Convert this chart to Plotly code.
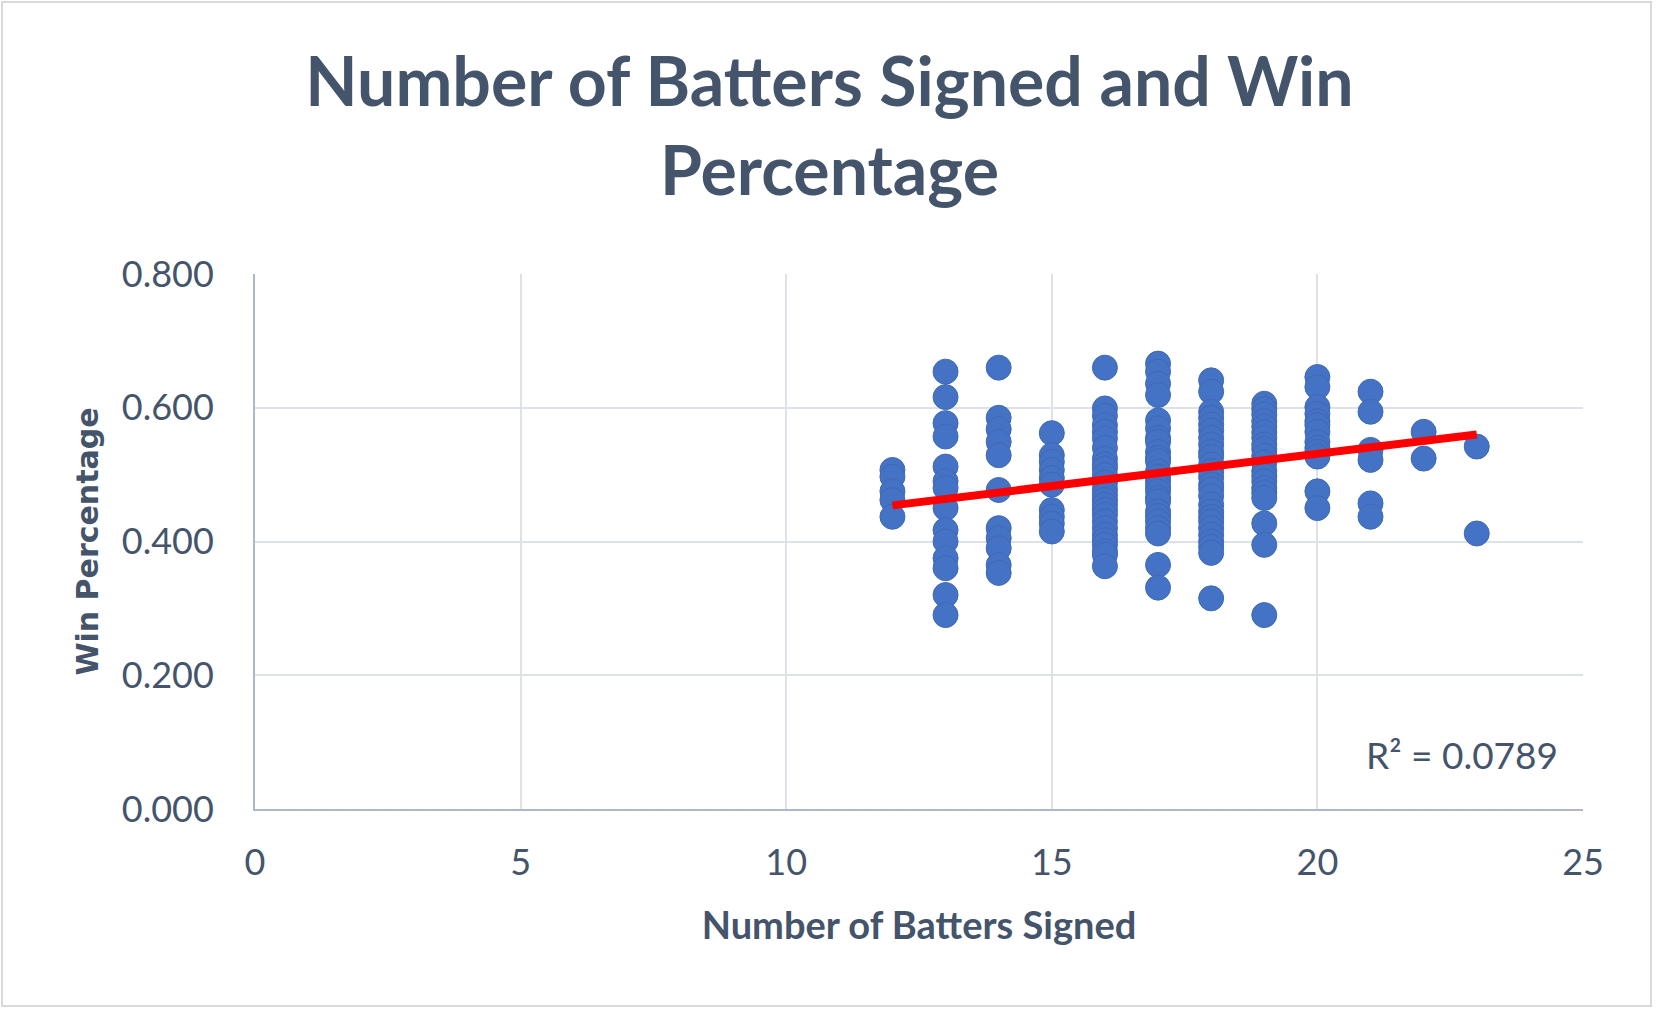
import numpy as np
import plotly.graph_objects as go

# Win percentage by number of batters signed
win_12 = [0.507, 0.497, 0.475, 0.462, 0.437]
win_13 = [0.654, 0.616, 0.577, 0.557, 0.512, 0.490, 0.480, 0.450, 0.417,
          0.400, 0.375, 0.360, 0.320, 0.290]
win_14 = [0.660, 0.585, 0.568, 0.549, 0.529, 0.477, 0.420, 0.405, 0.390,
          0.365, 0.353]
win_15 = [0.562, 0.529, 0.519, 0.507, 0.495, 0.485, 0.447, 0.437, 0.427, 0.415]
win_16 = [0.660, 0.599, 0.588, 0.574, 0.564, 0.554, 0.540, 0.524, 0.515,
          0.509, 0.499, 0.488, 0.478, 0.470, 0.462, 0.455, 0.447, 0.440,
          0.430, 0.420, 0.410, 0.402, 0.395, 0.385, 0.380, 0.363]
win_17 = [0.666, 0.654, 0.636, 0.619, 0.581, 0.569, 0.555, 0.549, 0.534,
          0.525, 0.520, 0.505, 0.497, 0.490, 0.482, 0.475, 0.465, 0.460,
          0.445, 0.438, 0.430, 0.420, 0.412, 0.365, 0.331]
win_18 = [0.641, 0.624, 0.594, 0.585, 0.575, 0.566, 0.555, 0.545, 0.534,
          0.527, 0.515, 0.505, 0.496, 0.485, 0.478, 0.468, 0.455, 0.445,
          0.437, 0.430, 0.420, 0.410, 0.400, 0.392, 0.383, 0.315]
win_19 = [0.606, 0.598, 0.590, 0.580, 0.572, 0.563, 0.555, 0.545, 0.538,
          0.528, 0.518, 0.505, 0.498, 0.490, 0.480, 0.473, 0.465, 0.427,
          0.395, 0.290]
win_20 = [0.646, 0.631, 0.601, 0.591, 0.580, 0.574, 0.564, 0.549, 0.540,
          0.534, 0.527, 0.475, 0.450]
win_21 = [0.624, 0.594, 0.537, 0.522, 0.457, 0.437]
win_22 = [0.564, 0.524]
win_23 = [0.542, 0.412]

batters = [12, 13, 14, 15, 16, 17, 18, 19, 20, 21, 22, 23]
columns = [win_12, win_13, win_14, win_15, win_16, win_17, win_18, win_19,
           win_20, win_21, win_22, win_23]

# linear trendline as drawn in the chart (value at first and last x)
trend_x = [12, 23]
trend_y = [0.454, 0.560]

x_ticks = [0, 5, 10, 15, 20, 25]
y_ticks = [0.0, 0.2, 0.4, 0.6, 0.8]
r2_label = "R² = 0.0789"

x = np.concatenate([[b] * len(c) for b, c in zip(batters, columns)])
y = np.concatenate(columns)

text_col = "#44546A"
W, H = 1659, 1012
L, R, T, B = 255, 76, 274, 203
pw, ph = W - L - R, H - T - B

fig = go.Figure()
fig.add_trace(go.Scatter(
    x=x, y=y, mode="markers",
    marker=dict(size=25, color="#4472C4", line=dict(color="#3F69B5", width=1)),
    showlegend=False,
))
fig.add_trace(go.Scatter(
    x=trend_x, y=trend_y, mode="lines",
    line=dict(color="#FF0000", width=8),
    showlegend=False,
))

fig.update_layout(
    width=W, height=H,
    margin=dict(l=L, r=R, t=T, b=B),
    paper_bgcolor="white", plot_bgcolor="white",
    font=dict(family="Lato", color=text_col),
    title=dict(
        text="<b>Number of Batters Signed and Win<br>Percentage</b>",
        x=0.5, xanchor="center", y=0.895, yanchor="middle",
        font=dict(size=68, color=text_col),
    ),
    annotations=[dict(
        text=r2_label, xref="x domain", yref="y domain",
        x=0.983, y=0.101, xanchor="right", yanchor="middle",
        showarrow=False, font=dict(size=37, color=text_col),
    )],
    shapes=[dict(
        type="rect", xref="paper", yref="paper",
        x0=(2 - L) / pw, x1=(1651 - L) / pw,
        y0=(H - B - 1006) / ph, y1=(H - B - 2) / ph,
        line=dict(color="#D9D9D9", width=2), layer="below",
    )],
)

fig.update_xaxes(
    range=[0, 25], tickvals=x_ticks,
    showgrid=True, gridcolor="#DDE1E8", gridwidth=2,
    showline=True, linecolor="#ADB9CA", linewidth=2,
    zeroline=False, ticks="", ticklabelstandoff=21,
    tickfont=dict(size=36, color=text_col),
    title=dict(text="<b>Number of Batters Signed</b>", standoff=30,
               font=dict(size=38, color=text_col)),
)
fig.update_yaxes(
    range=[0, 0.8], tickvals=y_ticks, tickformat=".3f",
    showgrid=True, gridcolor="#DDE1E8", gridwidth=2,
    showline=True, linecolor="#ADB9CA", linewidth=2,
    zeroline=False, ticks="", ticklabelstandoff=32,
    tickfont=dict(size=36, color=text_col),
    title=dict(text="<b>Win Percentage</b>", standoff=14,
               font=dict(family="DejaVu Sans", size=30, color=text_col)),
)

# drop the page's default body margin so the figure fills the window
fig.write_html("out.html", config={"displayModeBar": False},
               post_script="document.body.style.margin='0';")
